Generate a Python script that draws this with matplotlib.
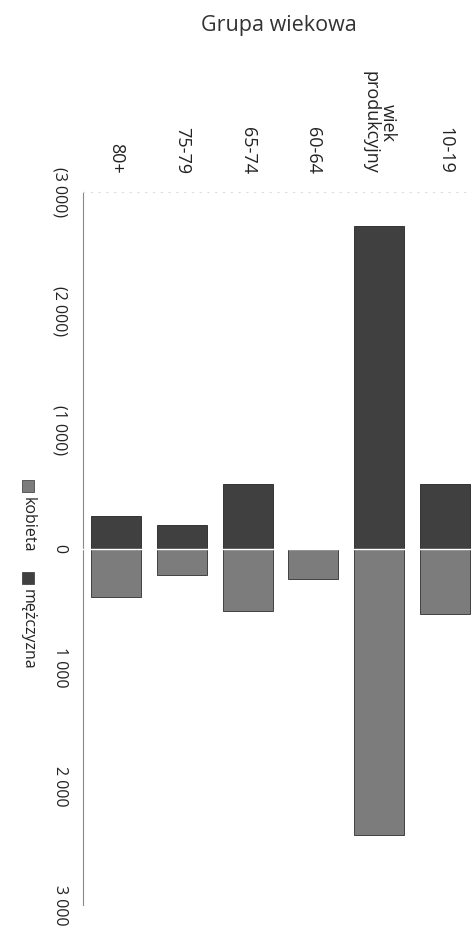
import matplotlib
matplotlib.use('Agg')
import matplotlib.pyplot as plt
from matplotlib.patches import Rectangle

plt.rcParams['font.family'] = ['Open Sans', 'DejaVu Sans']

# age groups, from left (bottom of the original pyramid) to right
grupy = ['80+', '75-79', '65-74', '60-64', 'wiek\nprodukcyjny', '10-19']
mezczyzna = [270, 200, 540, 0, 2710, 545]   # drawn as negative values
kobieta = [410, 220, 530, 260, 2410, 555]
ticks = [-3000, -2000, -1000, 0, 1000, 2000, 3000]
tick_labels = ['(3 000)', '(2 000)', '(1 000)', '0', '1 000', '2 000', '3 000']

c_men = '#404040'
c_women = '#7c7c7c'

W, H = 472, 943
fig = plt.figure(figsize=(W / 100, H / 100), dpi=100)

# axes placed in pixel coordinates
x0, x1 = 83, 472
y_top, y_bot = 192, 905
ax = fig.add_axes([x0 / W, 1 - y_bot / H, (x1 - x0) / W, (y_bot - y_top) / H])

pos = list(range(len(grupy)))
ax.bar(pos, [-m for m in mezczyzna], width=0.76, color=c_men,
       edgecolor='#222222', linewidth=0.6, zorder=2)
ax.bar(pos, kobieta, width=0.76, color=c_women,
       edgecolor='#2e2e2e', linewidth=0.6, zorder=2)
ax.axhline(0, color='white', lw=1.0, zorder=3)

ax.set_xlim(-0.5, 5.41)
ax.set_ylim(3000, -3000)

for s in ['right', 'bottom']:
    ax.spines[s].set_visible(False)
ax.spines['top'].set_color('#dddddd')
ax.spines['top'].set_linestyle((0, (1, 6)))
ax.spines['top'].set_linewidth(0.8)
ax.spines['left'].set_color('#888888')
ax.spines['left'].set_linestyle((0, (3, 1)))
ax.spines['left'].set_linewidth(0.8)

ax.set_yticks(ticks)
ax.set_yticklabels(tick_labels, rotation=-90, va='center', fontsize=11.5,
                   color='#222222')
ax.tick_params(axis='y', length=0, pad=11)

ax.xaxis.tick_top()
ax.set_xticks(pos)
ax.set_xticklabels(grupy, rotation=-90, va='bottom', ha='center',
                   fontsize=13, color='#222222', linespacing=0.9)
ax.tick_params(axis='x', length=0, pad=13)

fig.text(279 / W, 1 - 25 / H, 'Grupa wiekowa', ha='center', va='center',
         fontsize=15.5, color='#333333')

# legend, rotated like the rest of the chart
legend_items = [('kobieta', c_women, 480), ('mężczyzna', c_men, 572)]
lx = 28
for name, col, ly in legend_items:
    fig.patches.append(Rectangle(((lx - 6) / W, 1 - (ly + 12) / H), 12 / W, 12 / H,
                                 transform=fig.transFigure, facecolor=col,
                                 edgecolor='#333333', linewidth=0.5))
    fig.text(lx / W, 1 - (ly + 17) / H, name, rotation=-90, ha='center', va='top',
             fontsize=11.5, color='#222222')

fig.savefig('out.png', dpi=100)
